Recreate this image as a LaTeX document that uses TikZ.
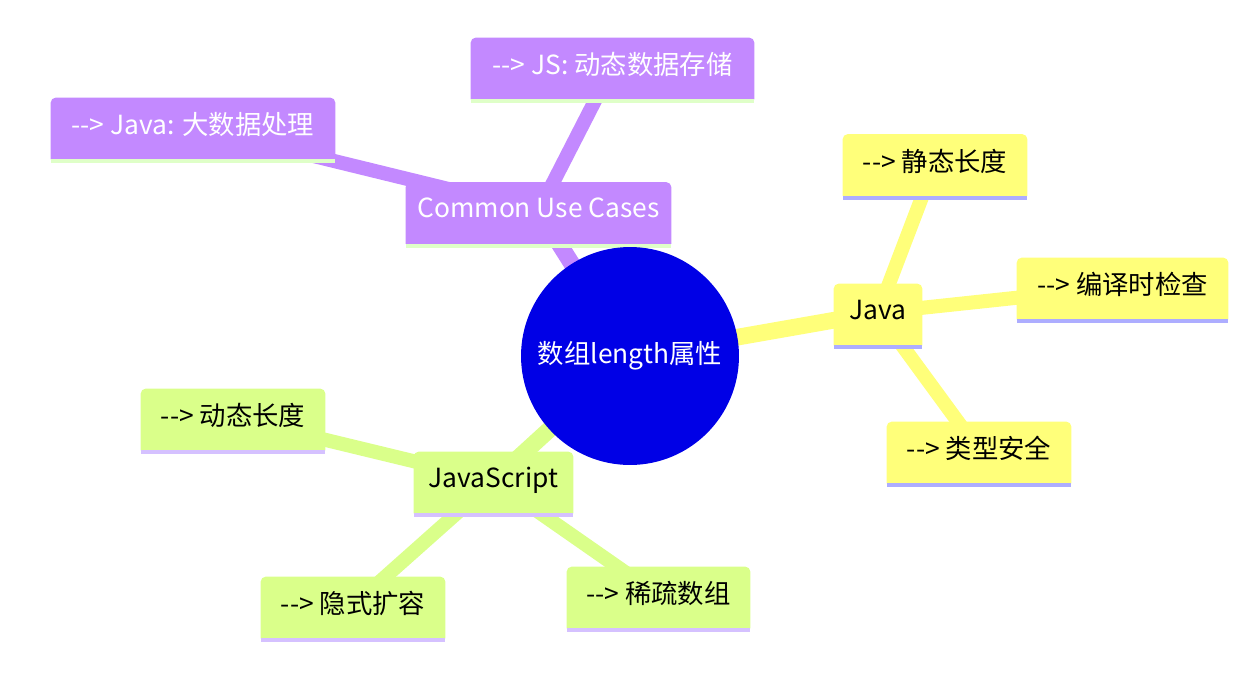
\documentclass[tikz,border=0pt]{standalone}
\usepackage{fontspec}
\setmainfont{Noto Sans CJK SC}
\usepackage{xcolor}
\definecolor{violet}{HTML}{C389FF}
\definecolor{violetbas}{HTML}{DFFFC8}
\definecolor{jaune}{HTML}{FFFF7A}
\definecolor{jaunebas}{HTML}{ADADFF}
\definecolor{vert}{HTML}{DAFF8A}
\definecolor{vertbas}{HTML}{D5C1FF}
\definecolor{racine}{HTML}{0000E6}
\usetikzlibrary{positioning,calc}
\pgfdeclarelayer{edges}
\pgfdeclarelayer{boxes}
\pgfsetlayers{edges,boxes,main}
\newcommand{\fleche}{-\kern0pt-\kern0pt>}

\begin{document}
\begin{tikzpicture}[x=0.02cm,y=-0.02cm,font=\fontsize{15}{18}\selectfont,
  topic/.style={minimum height=1.22cm,inner sep=0pt,text depth=0.6ex,yshift=0.04cm},
  trunk/.style={line width=9.5pt},
  twig/.style={line width=8pt}
]
\useasboundingbox (0,0) rectangle (1250,696);
% ---- racine ----
\node[circle,fill=racine,text=white,minimum size=4.36cm,inner sep=0pt] (root) at (630,356) {数组length属性};
% ---- branches ----
\node[topic,text=white,minimum width=5.3cm]  (cases)   at (538.5,213) {Common Use Cases};
\node[topic,text=white,minimum width=5.68cm] (bigdata) at (193,128.5) {\fleche{} Java: 大数据处理};
\node[topic,text=white,minimum width=5.66cm] (jsstore) at (612.5,68.5) {\fleche{} JS: 动态数据存储};
\node[topic,minimum width=1.76cm] (java)     at (878,314.5) {Java};
\node[topic,minimum width=3.68cm] (static)   at (935,165) {\fleche{} 静态长度};
\node[topic,minimum width=4.22cm] (compile)  at (1122.5,288.5) {\fleche{} 编译时检查};
\node[topic,minimum width=3.68cm] (typesafe) at (979,452.5) {\fleche{} 类型安全};
\node[topic,minimum width=3.18cm] (js)       at (493.5,482.5) {JavaScript};
\node[topic,minimum width=3.68cm] (dynlen)   at (233,419.5) {\fleche{} 动态长度};
\node[topic,minimum width=3.68cm] (implicit) at (353,607.5) {\fleche{} 隐式扩容};
\node[topic,minimum width=3.66cm] (sparse)   at (658.5,597.5) {\fleche{} 稀疏数组};
% ---- fonds des boites ----
\begin{pgfonlayer}{boxes}
\foreach \n/\c in {cases/violet, bigdata/violet, jsstore/violet,
                   java/jaune, static/jaune, compile/jaune, typesafe/jaune,
                   js/vert, dynlen/vert, implicit/vert, sparse/vert}{
  \fill[\c,rounded corners=0.1cm] ([yshift=-0.04cm]\n.south west) -- ([yshift=-0.04cm]\n.north west)
    -- ([yshift=-0.04cm]\n.north east) [sharp corners] -- ([yshift=-0.04cm]\n.south east) -- cycle;
  \fill[\c bas] ([yshift=-0.04cm]\n.south west) rectangle ([yshift=-0.12cm]\n.south east);
}
\end{pgfonlayer}
% ---- liens ----
\begin{pgfonlayer}{edges}
\draw[trunk,violet] (root.center) -- (cases.center);
\draw[trunk,jaune]  (root.center) -- (java.center);
\draw[trunk,vert]   (root.center) -- (js.center);
\foreach \a/\b/\c in {cases/bigdata/violet, cases/jsstore/violet,
                      java/static/jaune, java/compile/jaune, java/typesafe/jaune,
                      js/dynlen/vert, js/implicit/vert, js/sparse/vert}{
  \draw[twig,\c] (\a.center) -- (\b.center);
}
\end{pgfonlayer}
\end{tikzpicture}
\end{document}
